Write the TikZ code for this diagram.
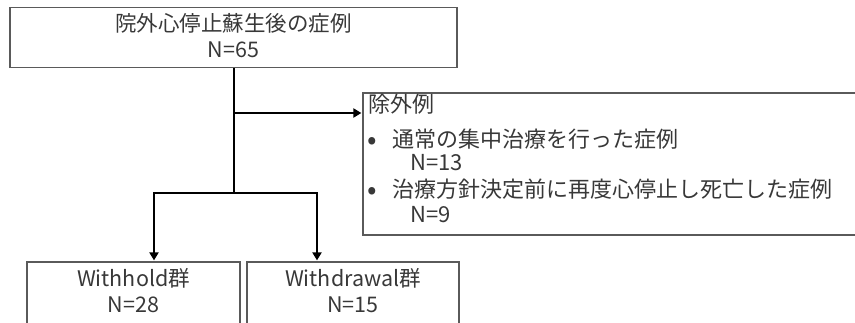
\documentclass[tikz,border=0pt]{standalone}
\usepackage{fontspec}
\setmainfont{Noto Sans CJK JP}
\usetikzlibrary{arrows.meta}
\definecolor{txt}{HTML}{383838}
\definecolor{frame}{HTML}{5A5A5A}
\begin{document}
\begin{tikzpicture}[x=1pt,y=-1pt,
  box/.style={draw=frame,line width=1.2pt,rectangle,inner sep=0pt},
  lbl/.style={text=txt,font=\fontsize{21.5}{24}\selectfont,inner sep=0pt,anchor=base},
  lblw/.style={lbl,font=\fontsize{22}{24}\selectfont,anchor=base west},
  bul/.style={lbl,font=\fontsize{28}{30}\selectfont,anchor=base west},
  conn/.style={line width=2.8pt,black},
  arr/.style={conn,-{Triangle[length=8pt,width=9pt]},shorten >=1pt}]
\useasboundingbox (0,0) rectangle (855,323);
\clip (0,0) rectangle (855,323);
% boxes
\node[box,minimum width=447pt,minimum height=60pt] (top) at (233.5,37.5) {};
\node[box,minimum width=517pt,minimum height=142pt] (exc) at (621.5,164) {};
\node[box,minimum width=213pt,minimum height=88pt] (wh) at (133.5,306) {};
\node[box,minimum width=212pt,minimum height=88pt] (wd) at (353,306) {};
% texts
\node[lbl] (t1) at (233.5,32) {院外心停止蘇生後の症例};
\node[lbl] (t2) at (233.5,58) {N=65};
\node[lblw] (e0) at (368,113) {除外例};
\node[bul] (b1) at (367,150) {•};
\node[lblw] (e1) at (392,148) {通常の集中治療を行った症例};
\node[lblw] (e2) at (410,171) {N=13};
\node[bul] (b2) at (367,200) {•};
\node[lblw] (e3) at (392,198) {治療方針決定前に再度心停止し死亡した症例};
\node[lblw] (e4) at (410,223) {N=9};
\node[lbl] (w1) at (133.5,287) {Withhold群};
\node[lbl] (w2) at (133.5,313) {N=28};
\node[lbl] (d1) at (353,287) {Withdrawal群};
\node[lbl] (d2) at (353,313) {N=15};
% connectors
\coordinate (br) at (234,113);
\coordinate (sp) at (234,193);
\coordinate (la) at (154,193);
\coordinate (ra) at (317,193);
\draw[conn] (br |- top.south) -- (sp);
\draw[arr] (br) -- (br -| exc.west);
\draw[arr] (sp) -- (la) -- (la |- wh.north);
\draw[arr] (sp) -- (ra) -- (ra |- wd.north);
\end{tikzpicture}
\end{document}
